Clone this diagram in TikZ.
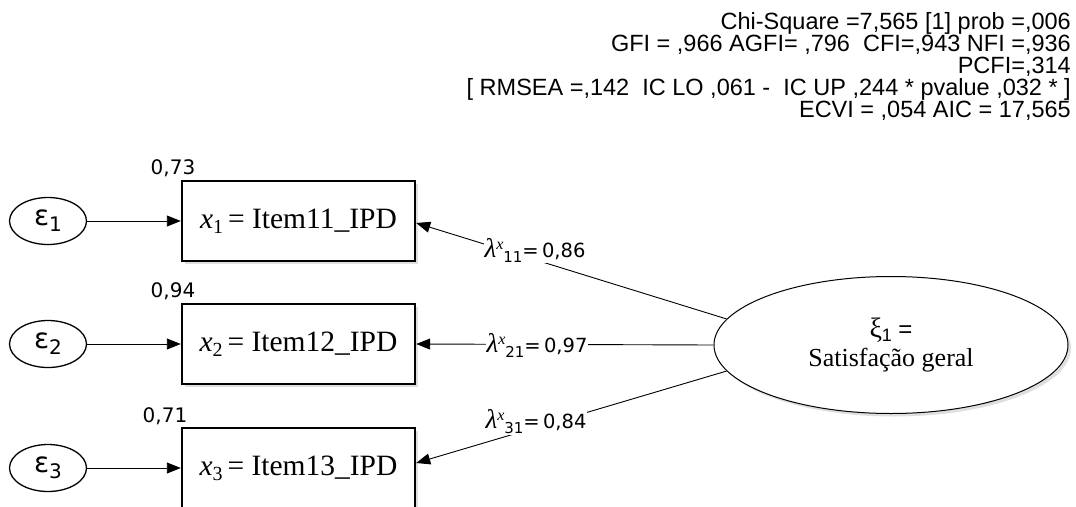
\documentclass[tikz,border=0pt]{standalone}
\usepackage{fontspec}
\setmainfont{Liberation Serif}
\newfontfamily\tms{Liberation Serif}
\newfontfamily\ari{Liberation Sans}
\newfontfamily\dvs{DejaVu Sans}
\usetikzlibrary{arrows.meta,shapes.geometric,shadows,calc}
\newcommand{\fsz}[1]{\fontsize{#1}{#1}\selectfont}
\newcommand{\epsl}[1]{{\dvs\fsz{28}ε\raisebox{-6pt}{\fsz{20}#1}}}
\newcommand{\boxtxt}[2]{{\tms\fsz{29.5}\textit{x}\raisebox{-5pt}{\fsz{20}#1}\,= Item#2\_IPD}}
\newcommand{\lamtxt}[2]{{\tms\fsz{27}\textit{λ}}\raisebox{8pt}{\tms\fsz{16}\textit{x}}\raisebox{-5pt}{\dvs\fsz{15}#1}{\dvs\fsz{19.5}=\,#2}}
\begin{document}
\begin{tikzpicture}[x=1pt,y=-1pt,
  errnode/.style={ellipse,draw,line width=1.3pt,minimum width=77pt,minimum height=47pt,inner sep=0pt},
  obsbox/.style={rectangle,draw,line width=2.4pt,minimum width=233pt,minimum height=80pt,inner sep=0pt,fill=white,
    drop shadow={shadow xshift=3pt,shadow yshift=-3pt,opacity=0.25}},
  latent/.style={ellipse,draw,line width=1pt,minimum width=354pt,minimum height=137pt,inner sep=0pt,fill=white,
    drop shadow={shadow xshift=3pt,shadow yshift=-3pt,opacity=0.25}},
  conn/.style={line width=0.9pt,-{Triangle[length=14pt,width=11pt]}},
  lamlab/.style={fill=white,inner sep=1pt},
  rel/.style={font=\dvs\fsz{20},inner sep=0pt},
  stats/.style={font=\ari\fsz{23.5},align=right,inner sep=0pt,anchor=north east}
]
\useasboundingbox (0,0) rectangle (1076,506);
\clip (0,0) rectangle (1076,506);

% statistics
\node[stats] (st) at (1071,12) {Chi-Square =7,565 [1] prob =,006\\[-1.4pt]
GFI = ,966 AGFI= ,796\ \ CFI=,943 NFI =,936\\[-1.4pt]
PCFI=,314\\[-1.4pt]
[ RMSEA =,142\ \ IC LO ,061 -\ \ IC UP ,244 * pvalue ,032 * ]\\[-1.4pt]
ECVI = ,054 AIC = 17,565};

% error terms
\node[errnode] (e1) at (48,221) {\epsl{1}};
\node[errnode] (e2) at (48,344) {\epsl{2}};
\node[errnode] (e3) at (48,468) {\epsl{3}};

% observed variables
\node[obsbox] (b1) at (298.5,221) {\boxtxt{1}{11}};
\node[obsbox] (b2) at (298.5,344) {\boxtxt{2}{12}};
\node[obsbox] (b3) at (298.5,468) {\boxtxt{3}{13}};

% reliabilities
\node[rel] (r1) at (173,168) {0,73};
\node[rel] (r2) at (173,291) {0,94};
\node[rel] (r3) at (165,416) {0,71};

% latent variable
\node[latent,align=center,font=\tms\fsz{26}] (xi) at (891,345) {{\fsz{28}ξ}\raisebox{-4pt}{\ari\fsz{18}1}\ {\ari\fsz{24}=}\\[3pt]Satisfação geral};

% error arrows
\draw[conn] (e1) -- (b1);
\draw[conn] (e2) -- (b2);
\draw[conn] (e3) -- (b3);

% loadings
\draw[conn] (xi.171) -- ([yshift=-2pt]b1.east);
\draw[conn] (xi.west) -- (b2.east);
\draw[conn] (xi.189) -- ([yshift=5pt]b3.east);

\node[lamlab] (l1) at (535,250) {\lamtxt{11}{0,86}};
\node[lamlab] (l2) at (537,345) {\lamtxt{21}{0,97}};
\node[lamlab] (l3) at (536,422) {\lamtxt{31}{0,84}};
\end{tikzpicture}
\end{document}
